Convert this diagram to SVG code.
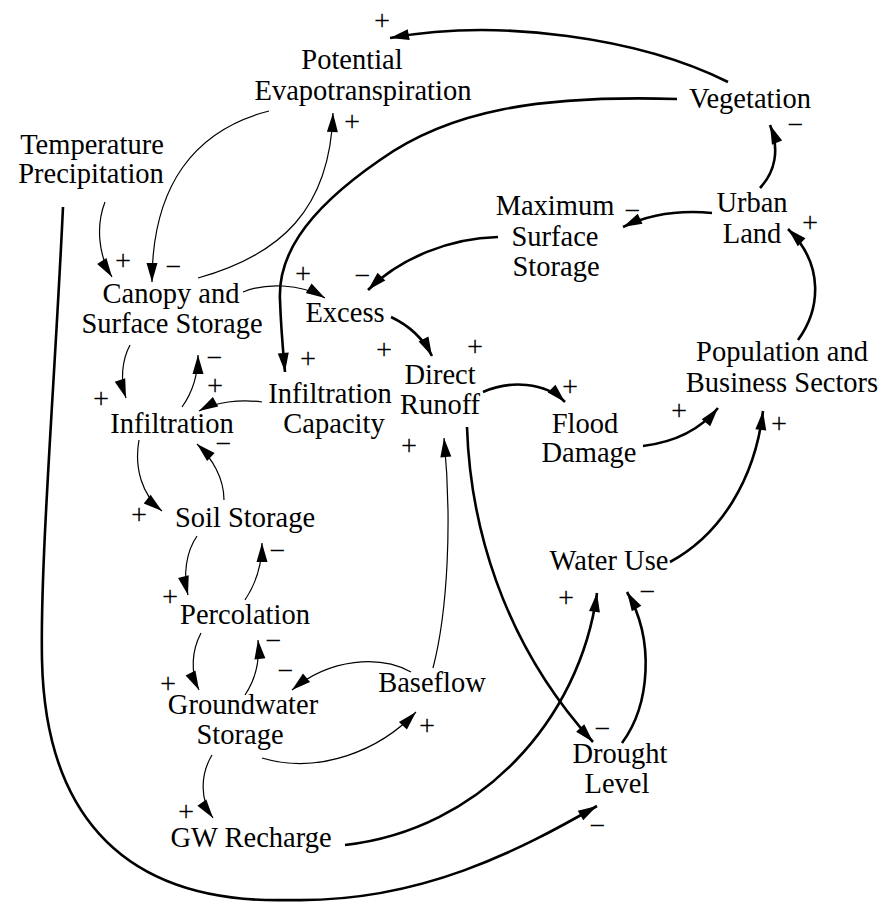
<svg xmlns="http://www.w3.org/2000/svg" width="883" height="905" viewBox="0 0 883 905">
<defs>
<marker id="ah" markerUnits="userSpaceOnUse" markerWidth="20" markerHeight="11" refX="19" refY="5.5" orient="auto" overflow="visible">
<path d="M0,0 L19,5.5 L0,11 Z" fill="#000"/>
</marker>
</defs>
<rect width="883" height="905" fill="#fff"/>
<g id="connectors" fill="none" stroke="#000">
<g stroke-width="2.6" marker-end="url(#ah)">
<path d="M728,82 C640,38 500,18 390,38"/>
<path d="M280,300 C281,330 283,350 285,372"/>
<path d="M498,237 C450,238 400,258 368,290"/>
<path d="M712,213 C680,210 650,214 623,227"/>
<path d="M760,188 C775,172 780,150 770,125"/>
<path d="M798,340 C820,310 825,265 788,229"/>
<path d="M391,317 C410,326 424,340 432,356"/>
<path d="M483,392 C510,380 545,382 565,402"/>
<path d="M643,446 C675,442 700,430 718,408"/>
<path d="M670,562 C720,535 755,480 763,411"/>
<path d="M467,427 C470,520 500,640 593,742"/>
<path d="M345,845 C480,830 580,720 597,593"/>
<path d="M622,743 C650,705 655,640 627,592"/>
<path d="M63,207 C55,380 40,560 42,660 C45,800 110,905 290,900 C420,903 520,850 597,806"/>
</g>
<path stroke-width="2.6" d="M677,99 C540,95 450,110 380,160 C300,215 278,260 280,300"/>
<g stroke-width="1.2" marker-end="url(#ah)">
<path d="M105,202 C96,225 98,255 112,277"/>
<path d="M269,111 C195,130 152,185 152,282"/>
<path d="M198,278 C280,255 330,210 333,113"/>
<path d="M243,292 C265,283 300,283 325,298"/>
<path d="M130,345 C122,360 120,380 126,398"/>
<path d="M182,407 C192,393 198,375 198,355"/>
<path d="M262,402 C240,399 215,402 199,411"/>
<path d="M139,440 C134,468 142,495 162,511"/>
<path d="M224,500 C224,478 212,458 197,444"/>
<path d="M197,536 C186,552 183,575 188,595"/>
<path d="M245,600 C255,585 262,565 262,543"/>
<path d="M201,633 C192,650 190,672 199,690"/>
<path d="M245,695 C255,680 260,660 258,640"/>
<path d="M411,672 C380,655 330,658 292,690"/>
<path d="M262,758 C320,775 380,750 416,712"/>
<path d="M212,755 C200,775 200,800 213,818"/>
<path d="M433,668 C448,610 452,520 444,438"/>
</g>
</g>
<g id="polarity" font-size="28.5" text-anchor="middle" fill="#000">
<text font-family="Liberation Serif" x="382" y="30">+</text>
<text font-family="Liberation Serif" x="352" y="131">+</text>
<text font-family="Liberation Serif" x="123" y="270">+</text>
<text font-family="Liberation Serif" x="173" y="276">&#8722;</text>
<text font-family="Liberation Serif" x="303" y="283">+</text>
<text font-family="Liberation Serif" x="362" y="285">&#8722;</text>
<text font-family="Liberation Serif" x="795" y="134">&#8722;</text>
<text font-family="Liberation Serif" x="632" y="220">&#8722;</text>
<text font-family="Liberation Serif" x="810" y="232">+</text>
<text font-family="Liberation Serif" x="308" y="368">+</text>
<text font-family="Liberation Serif" x="384" y="359">+</text>
<text font-family="Liberation Serif" x="475" y="356">+</text>
<text font-family="Liberation Serif" x="214" y="367">&#8722;</text>
<text font-family="Liberation Serif" x="215" y="395">+</text>
<text font-family="Liberation Serif" x="101" y="408">+</text>
<text font-family="Liberation Serif" x="409" y="455">+</text>
<text font-family="Liberation Serif" x="570" y="396">+</text>
<text font-family="Liberation Serif" x="679" y="420">+</text>
<text font-family="Liberation Serif" x="779" y="433">+</text>
<text font-family="Liberation Serif" x="223" y="453">&#8722;</text>
<text font-family="Liberation Serif" x="139" y="524">+</text>
<text font-family="Liberation Serif" x="277" y="560">&#8722;</text>
<text font-family="Liberation Serif" x="170" y="606">+</text>
<text font-family="Liberation Serif" x="168" y="693">+</text>
<text font-family="Liberation Serif" x="273" y="650">&#8722;</text>
<text font-family="Liberation Serif" x="285" y="680">&#8722;</text>
<text font-family="Liberation Serif" x="427" y="735">+</text>
<text font-family="Liberation Serif" x="186" y="821">+</text>
<text font-family="Liberation Serif" x="566" y="607">+</text>
<text font-family="Liberation Serif" x="647" y="601">&#8722;</text>
<text font-family="Liberation Serif" x="602" y="738">&#8722;</text>
<text font-family="Liberation Serif" x="597" y="835">&#8722;</text>
</g>
<g id="nodes" font-size="28.5" text-anchor="middle" fill="#000">
<g id="potential-evapotranspiration"><text font-family="Liberation Serif" x="352" y="69">Potential</text><text font-family="Liberation Serif" x="363" y="100">Evapotranspiration</text></g>
<g id="temperature-precipitation"><text font-family="Liberation Serif" x="92" y="154">Temperature</text><text font-family="Liberation Serif" x="91" y="183">Precipitation</text></g>
<g id="vegetation"><text font-family="Liberation Serif" x="750" y="108">Vegetation</text></g>
<g id="maximum-surface-storage"><text font-family="Liberation Serif" x="555" y="215">Maximum</text><text font-family="Liberation Serif" x="555" y="246">Surface</text><text font-family="Liberation Serif" x="556" y="276">Storage</text></g>
<g id="urban-land"><text font-family="Liberation Serif" x="752" y="212">Urban</text><text font-family="Liberation Serif" x="752" y="243">Land</text></g>
<g id="canopy-surface-storage"><text font-family="Liberation Serif" x="171" y="303">Canopy and</text><text font-family="Liberation Serif" x="172" y="333">Surface Storage</text></g>
<g id="excess"><text font-family="Liberation Serif" x="345" y="322">Excess</text></g>
<g id="infiltration"><text font-family="Liberation Serif" x="172" y="433">Infiltration</text></g>
<g id="infiltration-capacity"><text font-family="Liberation Serif" x="330" y="403">Infiltration</text><text font-family="Liberation Serif" x="334" y="433">Capacity</text></g>
<g id="direct-runoff"><text font-family="Liberation Serif" x="440" y="384">Direct</text><text font-family="Liberation Serif" x="440" y="414">Runoff</text></g>
<g id="flood-damage"><text font-family="Liberation Serif" x="585" y="433">Flood</text><text font-family="Liberation Serif" x="589" y="462">Damage</text></g>
<g id="population-business"><text font-family="Liberation Serif" x="782" y="361">Population and</text><text font-family="Liberation Serif" x="782" y="392">Business Sectors</text></g>
<g id="water-use"><text font-family="Liberation Serif" x="609" y="570">Water Use</text></g>
<g id="soil-storage"><text font-family="Liberation Serif" x="245" y="527">Soil Storage</text></g>
<g id="percolation"><text font-family="Liberation Serif" x="245" y="624">Percolation</text></g>
<g id="groundwater-storage"><text font-family="Liberation Serif" x="243" y="714">Groundwater</text><text font-family="Liberation Serif" x="240" y="744">Storage</text></g>
<g id="baseflow"><text font-family="Liberation Serif" x="432" y="692">Baseflow</text></g>
<g id="gw-recharge"><text font-family="Liberation Serif" x="251" y="847">GW Recharge</text></g>
<g id="drought-level"><text font-family="Liberation Serif" x="620" y="763">Drought</text><text font-family="Liberation Serif" x="617" y="793">Level</text></g>
</g>
</svg>
